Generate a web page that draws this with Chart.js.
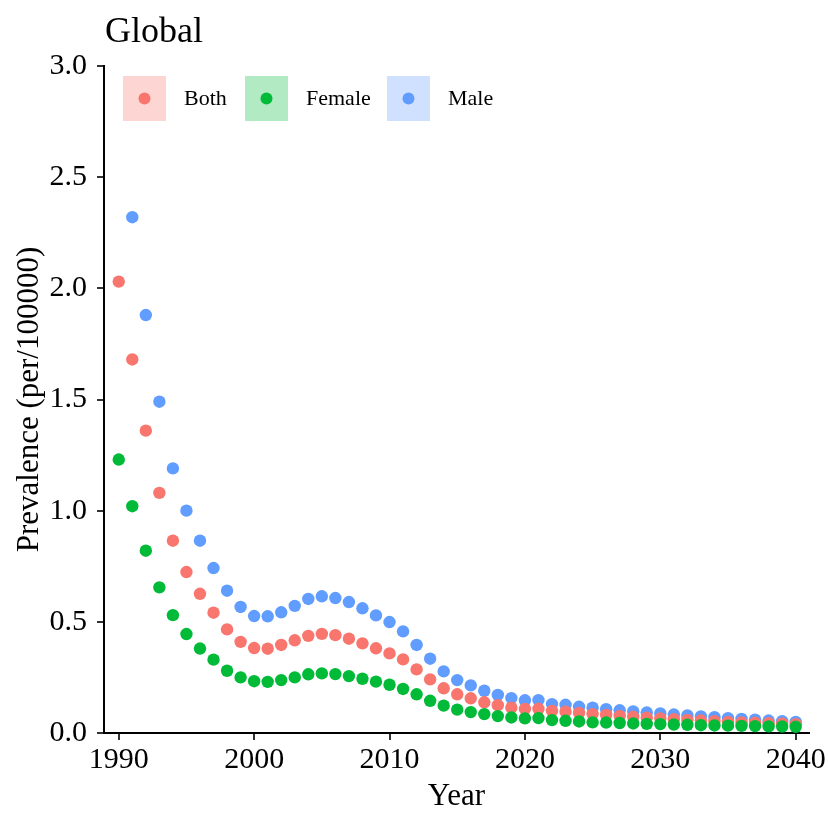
<!DOCTYPE html>
<html>
<head>
<meta charset="utf-8">
<script src="https://cdn.jsdelivr.net/npm/chart.js@4.4.1/dist/chart.umd.min.js"></script>
<style>
  body { margin: 0; background: #fff; }
  canvas { display: block; }
</style>
</head>
<body>
<canvas id="prevChart" width="828" height="828"></canvas>
<script>
// Năm (trục x)
const years = [
  1990, 1991, 1992, 1993, 1994, 1995, 1996, 1997, 1998, 1999,
  2000, 2001, 2002, 2003, 2004, 2005, 2006, 2007, 2008, 2009,
  2010, 2011, 2012, 2013, 2014, 2015, 2016, 2017, 2018, 2019,
  2020, 2021, 2022, 2023, 2024, 2025, 2026, 2027, 2028, 2029,
  2030, 2031, 2032, 2033, 2034, 2035, 2036, 2037, 2038, 2039, 2040
];

// Giá trị (per/100000)
const bothValues = [
  2.03, 1.68, 1.36, 1.08, 0.865, 0.724, 0.626, 0.541, 0.466, 0.41,
  0.382, 0.379, 0.396, 0.417, 0.437, 0.446, 0.44, 0.424, 0.403, 0.381,
  0.358, 0.331, 0.286, 0.241, 0.201, 0.174, 0.156, 0.138, 0.125, 0.114,
  0.108, 0.109, 0.099, 0.096, 0.09, 0.085, 0.081, 0.077, 0.073, 0.069,
  0.066, 0.062, 0.059, 0.056, 0.053, 0.05, 0.048, 0.046, 0.044, 0.042, 0.04
];
const femaleValues = [
  1.23, 1.02, 0.82, 0.655, 0.53, 0.445, 0.38, 0.33, 0.28, 0.25,
  0.233, 0.23, 0.238, 0.25, 0.264, 0.268, 0.265, 0.256, 0.244, 0.231,
  0.217, 0.198, 0.174, 0.145, 0.123, 0.105, 0.094, 0.085, 0.076, 0.07,
  0.066, 0.067, 0.058, 0.055, 0.052, 0.048, 0.047, 0.045, 0.043, 0.041,
  0.04, 0.038, 0.037, 0.035, 0.034, 0.033, 0.032, 0.031, 0.03, 0.029, 0.028
];
// 1990 nam nằm ngoài trục (> 3.0), không thấy trên hình
const maleValues = [
  null, 2.32, 1.88, 1.49, 1.19, 1.00, 0.865, 0.742, 0.64, 0.567,
  0.526, 0.525, 0.543, 0.572, 0.603, 0.615, 0.607, 0.589, 0.561, 0.529,
  0.499, 0.457, 0.396, 0.334, 0.277, 0.238, 0.214, 0.19, 0.171, 0.157,
  0.147, 0.148, 0.13, 0.127, 0.118, 0.114, 0.107, 0.102, 0.097, 0.092,
  0.088, 0.083, 0.079, 0.075, 0.071, 0.067, 0.063, 0.06, 0.056, 0.053, 0.05
];

const seriesNames = ['Both', 'Female', 'Male'];
const seriesColors = ['#F8766D', '#00BA38', '#619CFF'];
const keyColors = ['rgba(248,118,109,0.3)', 'rgba(0,186,56,0.3)', 'rgba(97,156,255,0.3)'];

const xTicks = [1990, 2000, 2010, 2020, 2030, 2040];
const yTicks = [0, 0.5, 1.0, 1.5, 2.0, 2.5, 3.0];

const serif = "'Liberation Serif', 'Times New Roman', serif";

function toPoints(vals) {
  return years.map((y, i) => ({ x: y, y: vals[i] }));
}

// Tiêu đề + chú thích vẽ bên trong vùng biểu đồ
const overlayPlugin = {
  id: 'overlay',
  afterDraw(chart) {
    const ctx = chart.ctx;
    const area = chart.chartArea;
    ctx.save();
    ctx.fillStyle = '#000';
    ctx.font = '36px ' + serif;
    ctx.textBaseline = 'alphabetic';
    ctx.textAlign = 'left';
    ctx.fillText('Global', area.left + 1, 42);

    const keyX = [area.left + 19, area.left + 141, area.left + 283];
    const keyW = 43, keyH = 45;
    const keyTop = area.top + 10;
    ctx.font = '22px ' + serif;
    ctx.textBaseline = 'middle';
    seriesNames.forEach((name, i) => {
      ctx.fillStyle = keyColors[i];
      ctx.fillRect(keyX[i], keyTop, keyW, keyH);
      ctx.fillStyle = seriesColors[i];
      ctx.beginPath();
      ctx.arc(keyX[i] + keyW / 2, keyTop + keyH / 2, 6, 0, Math.PI * 2);
      ctx.fill();
      ctx.fillStyle = '#000';
      ctx.fillText(name, keyX[i] + keyW + 18, keyTop + keyH / 2 + 1);
    });
    ctx.restore();
  }
};

const datasets = seriesNames.map((name, i) => ({
  label: name,
  data: toPoints([bothValues, femaleValues, maleValues][i]),
  backgroundColor: seriesColors[i],
  borderColor: seriesColors[i],
  borderWidth: 0,
  pointRadius: 6.2,
  showLine: false,
  order: [1, 0, 2][i]
}));

const config = {
  type: 'scatter',
  data: { datasets: datasets },
  options: {
    responsive: false,
    animation: false,
    layout: { padding: { top: 66, right: 17, left: 0, bottom: 0 } },
    scales: {
      x: {
        type: 'linear',
        min: 1988.91,
        max: 2040.97,
        afterFit(scale) { scale.height = 95; },
        afterBuildTicks(scale) { scale.ticks = xTicks.map(v => ({ value: v })); },
        ticks: {
          color: '#000',
          font: { family: serif, size: 30 },
          padding: 2,
          maxRotation: 0,
          callback: v => String(v)
        },
        grid: { drawOnChartArea: false, drawTicks: true, tickLength: 7, color: '#333', lineWidth: 2 },
        border: { display: true, color: '#000', width: 2 },
        title: {
          display: true,
          text: 'Year',
          color: '#000',
          font: { family: serif, size: 31 },
          padding: { top: 0, bottom: 13 }
        }
      },
      y: {
        min: 0,
        max: 3,
        afterFit(scale) { scale.width = 104; },
        afterBuildTicks(scale) { scale.ticks = yTicks.map(v => ({ value: v })); },
        ticks: {
          color: '#000',
          font: { family: serif, size: 30 },
          padding: 10,
          callback: v => v.toFixed(1)
        },
        grid: { drawOnChartArea: false, drawTicks: true, tickLength: 7, color: '#333', lineWidth: 2 },
        border: { display: true, color: '#000', width: 2 },
        title: {
          display: true,
          text: 'Prevalence (per/100000)',
          color: '#000',
          font: { family: serif, size: 31 },
          padding: { top: 11, bottom: 0 }
        }
      }
    },
    plugins: {
      legend: { display: false },
      tooltip: { enabled: false }
    }
  },
  plugins: [overlayPlugin]
};

const prevChart = new Chart(document.getElementById('prevChart'), config);
</script>
</body>
</html>
